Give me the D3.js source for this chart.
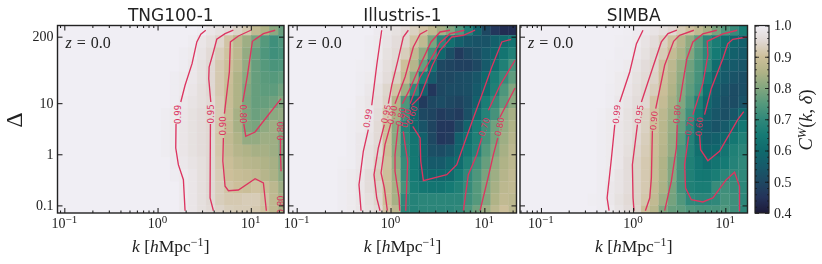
<!DOCTYPE html>
<html>
<head>
<meta charset="utf-8">
<script src="https://d3js.org/d3.v7.min.js"></script>
<style>
  html, body { margin: 0; padding: 0; background: #fff; }
  svg { display: block; filter: blur(0.3px); }
  text { fill: #222; }
</style>
</head>
<body>
<script>
const titles = ["TNG100-1", "Illustris-1", "SIMBA"]
const deltaTicks = [0.1, 1, 10, 200]
const kMajor = [0.1, 1, 10]
const cwTicks = [0.4, 0.5, 0.6, 0.7, 0.8, 0.9, 1.0]

// k range of each box and the log10 k of its first bin edge
const kDomains = [[0.0845, 22.7], [0.0818, 22.0], [0.0593, 17.4]]
const kFirstEdge = [-1.025, -1.043, -1.162]
const kStep = [0.0966, 0.096, 0.096]
const deltaEdges = [331, 213, 123, 71.6, 41.3, 23.8, 13.8, 8.0, 4.6, 2.66, 1.53, 0.887, 0.513, 0.296, 0.171, 0.0986, 0.071]

const cmapLevels = [0.4, 0.45, 0.5, 0.55, 0.6, 0.65, 0.7, 0.75, 0.8, 0.85, 0.9, 0.95, 1.0]
const cmapColors = ["#1c1a38", "#24335a", "#1e4862", "#165a6a", "#0f6a6c", "#157a74", "#30887a", "#55997c", "#82a67f", "#b0b387", "#cdbf9a", "#e0d8d3", "#f0eef4"]

// rows run from high to low delta, columns are listed from the right edge back; anything further left is 1.0
const cwTng = [
  [.995,.98,.97,.96,.94,.92,.88,.85,.81,.77],
  [.995,.98,.965,.945,.91,.87,.83,.79,.75,.72,.74],
  [.995,.99,.975,.955,.93,.905,.87,.82,.77,.74,.72,.73],
  [.995,.985,.97,.95,.92,.90,.865,.82,.77,.75,.735,.74],
  [.995,.99,.985,.97,.95,.92,.895,.85,.81,.77,.755,.75,.76],
  [.995,.99,.98,.965,.95,.92,.89,.85,.80,.77,.76,.76,.78],
  [.995,.985,.975,.965,.955,.925,.89,.85,.795,.77,.77,.78,.80],
  [.995,.99,.98,.97,.96,.95,.925,.89,.84,.795,.775,.785,.81,.82],
  [.995,.99,.98,.97,.96,.95,.92,.885,.84,.80,.79,.815,.83,.80],
  [.995,.99,.98,.97,.96,.95,.915,.88,.85,.82,.82,.83,.83,.80],
  [.995,.99,.98,.97,.96,.95,.915,.885,.86,.85,.84,.84,.83,.80],
  [.992,.985,.975,.965,.95,.92,.895,.875,.865,.86,.85,.84,.80],
  [.995,.99,.98,.965,.95,.925,.90,.89,.885,.875,.86,.845,.81],
  [.99,.98,.965,.95,.93,.91,.90,.895,.905,.895,.87,.83],
  [.99,.98,.965,.95,.93,.92,.92,.925,.925,.91,.875,.84],
  [.99,.98,.965,.955,.94,.93,.925,.925,.92,.905,.875,.84]
]
const cwIllustris = [
  [.992,.98,.97,.955,.935,.91,.88,.84,.80,.74,.67,.58,.50,.46,.44,.44],
  [.995,.99,.975,.96,.945,.91,.875,.79,.69,.62,.57,.54,.53,.53,.57,.605,.63],
  [.995,.99,.97,.955,.93,.88,.815,.73,.59,.52,.47,.50,.52,.55,.585,.63,.67],
  [.997,.995,.985,.965,.95,.90,.86,.77,.62,.50,.49,.48,.48,.50,.55,.61,.67,.73],
  [.995,.99,.98,.96,.935,.885,.81,.66,.55,.50,.50,.51,.52,.54,.60,.66,.71,.76],
  [.995,.985,.97,.945,.91,.83,.70,.57,.46,.50,.51,.51,.52,.55,.61,.67,.74,.80],
  [.99,.98,.965,.94,.86,.74,.59,.47,.50,.51,.50,.49,.51,.57,.66,.71,.76,.81],
  [.997,.99,.985,.96,.92,.84,.72,.59,.50,.49,.47,.48,.47,.52,.61,.68,.73,.81,.84],
  [.995,.99,.98,.955,.90,.81,.68,.59,.53,.49,.46,.46,.50,.58,.66,.72,.78,.82,.85],
  [.995,.985,.975,.955,.90,.81,.69,.63,.57,.50,.46,.47,.57,.62,.67,.73,.785,.83,.86],
  [.995,.985,.97,.95,.90,.81,.695,.64,.58,.52,.51,.53,.58,.64,.68,.75,.80,.84,.87],
  [.997,.995,.985,.97,.94,.905,.82,.71,.645,.58,.55,.55,.58,.61,.67,.72,.77,.82,.85,.87],
  [.995,.99,.98,.96,.93,.90,.83,.71,.65,.60,.59,.59,.60,.65,.70,.74,.79,.83,.86,.88],
  [.995,.99,.98,.96,.94,.90,.84,.73,.66,.64,.63,.63,.65,.67,.71,.75,.80,.84,.87,.88],
  [.995,.99,.98,.965,.945,.90,.84,.70,.68,.69,.69,.69,.69,.69,.72,.75,.80,.85,.88,.87],
  [.995,.99,.98,.97,.955,.91,.87,.695,.68,.69,.69,.69,.69,.70,.74,.78,.83,.87,.90,.87]
]
const cwSimba = [
  [.997,.992,.985,.975,.965,.95,.925,.905,.875,.84,.79,.745,.71,.66],
  [.997,.995,.99,.975,.96,.935,.905,.86,.815,.76,.70,.66,.62,.59,.57],
  [.995,.995,.985,.97,.95,.925,.885,.845,.80,.745,.70,.65,.605,.57,.55],
  [.997,.995,.99,.975,.96,.945,.905,.87,.825,.78,.735,.70,.61,.56,.55,.54],
  [.997,.99,.985,.97,.955,.94,.90,.86,.815,.77,.73,.655,.58,.55,.53,.52],
  [.995,.99,.98,.965,.95,.93,.895,.85,.805,.76,.72,.62,.56,.53,.51,.52],
  [.995,.985,.975,.96,.95,.91,.885,.84,.80,.745,.67,.59,.55,.52,.51,.53],
  [.997,.99,.985,.97,.955,.935,.905,.87,.83,.785,.72,.65,.57,.54,.52,.54,.59],
  [.995,.99,.98,.97,.955,.935,.90,.865,.825,.765,.70,.59,.55,.53,.55,.60,.64],
  [.995,.99,.98,.97,.95,.93,.895,.865,.82,.755,.68,.60,.56,.57,.59,.64,.67],
  [.995,.99,.98,.965,.945,.925,.895,.86,.82,.74,.68,.62,.585,.59,.63,.67,.69],
  [.995,.99,.98,.96,.94,.92,.89,.85,.80,.735,.67,.635,.61,.63,.65,.68,.70],
  [.995,.99,.975,.96,.94,.92,.89,.85,.80,.73,.67,.645,.64,.66,.69,.70,.70],
  [.995,.985,.975,.96,.94,.92,.885,.845,.79,.725,.67,.66,.66,.71,.72,.71,.695],
  [.997,.995,.985,.97,.955,.94,.915,.88,.83,.785,.745,.70,.69,.69,.70,.73,.72,.695],
  [.995,.99,.975,.96,.945,.895,.865,.80,.77,.76,.74,.73,.73,.73,.74,.72,.695]
]

// contour lines as [log10 k, log10 delta], split where the inline labels sit
const linesTng = [
  [[.517,2.427],[.464,2.348],[.421,2.198],[.37,1.773],[.295,1.35],[.249,1.023]],
  [[.198,.593],[.195,.123],[.223,-.204],[.277,-.497],[.295,-1.104]],
  [[.813,2.427],[.724,2.36],[.635,2.25],[.599,2.002],[.553,1.708],[.549,1.479],[.571,1.023]],
  [[.567,.593],[.563,-.855],[.599,-1.104]],
  [[1.0,2.427],[.867,2.315],[.781,2.198],[.77,1.611],[.717,.795]],
  [[.706,.319],[.70,-.131],[.724,-.626],[.76,-.712],[.867,-.699],[1.046,-.477],[1.135,-.562],[1.167,-1.104]],
  [[1.261,2.427],[1.135,2.36],[1.017,2.211],[.964,1.546],[.914,1.023]],
  [[.925,.593],[.946,.352],[1.046,.436],[1.135,.646],[1.325,1.088]],
  [[1.318,.319],[1.318,-.008],[1.325,-.333]]
]
const linesIllustris = [
  [[-.094,2.427],[-.147,1.742],[-.20,.959]],
  [[-.237,.481],[-.29,.059],[-.336,-.595],[-.314,-1.104]],
  [[.19,2.427],[.136,2.295],[.083,1.871],[.013,1.35],[-.023,.99]],
  [[-.066,.579],[-.13,.123],[-.176,-.399],[-.147,-.855],[-.112,-1.104]],
  [[.392,2.427],[.315,2.348],[.243,2.1],[.155,1.513],[.048,.99]],
  [[.002,.593],[-.059,.188],[-.101,-.366],[-.066,-.659],[-.034,-1.104]],
  [[.634,2.427],[.528,2.393],[.432,2.198],[.315,1.742],[.208,1.284],[.126,.99]],
  [[.083,.579],[.048,-.008],[.048,-.333],[.091,-.855],[.098,-1.104]],
  [[.787,2.427],[.634,2.36],[.528,2.184],[.403,1.773],[.315,1.513],[.208,.99]],
  [[.136,.45],[.155,.188],[.183,-.137],[.162,-1.104]],
  [[.901,2.427],[.776,2.329],[.652,2.295],[.528,2.035],[.446,1.742],[.315,1.121],[.226,.959]],
  [[.237,.548],[.315,.319],[.322,-.137],[.35,-.517],[.599,-.399],[.706,-.204],[.794,.254],[.883,.71],[.972,1.155],[1.079,1.708],[1.186,2.198],[1.285,2.25]],
  [[.776,-1.104],[.829,-.399],[.919,-.008],[.972,.319]],
  [[1.043,.861],[1.167,1.35],[1.327,1.84]],
  [[.954,-1.104],[1.043,-.431],[1.096,-.008],[1.143,.319]],
  [[1.167,.73],[1.327,1.297]]
]
const linesSimba = [
  [[.107,2.427],[.036,2.164],[-.037,1.611],[-.145,1.023]],
  [[-.199,.579],[-.235,-.072],[-.282,-.855],[-.261,-1.104]],
  [[.475,2.427],[.378,2.36],[.306,2.198],[.215,1.708],[.09,1.023]],
  [[.047,.579],[-.008,-.204],[-.001,-.855],[.01,-1.104]],
  [[.659,2.427],[.504,2.329],[.439,2.211],[.342,1.742],[.245,.892]],
  [[.209,.462],[.198,-.464],[.18,-.855],[.133,-1.104]],
  [[.908,2.427],[.756,2.355],[.648,2.198],[.583,1.871],[.504,1.023]],
  [[.479,.579],[.469,.123],[.414,-.528],[.342,-1.104]],
  [[1.129,2.427],[.973,2.355],[.804,2.211],[.811,1.937],[.756,1.382],[.648,.775]],
  [[.602,.352],[.558,-.204],[.569,-.659],[.631,-.888],[.756,-.933],[.865,-.855],[1.01,-.497],[1.1,-.352],[1.154,-.626],[1.154,-1.115]],
  [[1.24,2.295],[1.081,2.25],[1.027,2.164],[.973,1.871],[.847,1.284],[.775,.775]],
  [[.721,.384],[.732,.09],[.811,-.125],[.937,.059],[1.135,.677],[1.2,.834]]
]

// inline labels: text, log10 k, log10 delta, rotation
const labelsTng = [["0.99",.215,.779,-90],["0.95",.567,.789,-90],["0.90",.70,.554,-90],["0.80",.914,.789,90],["0.80",1.322,.456,-90],["0.80",1.322,-.992,-90]]
const labelsIllustris = [["0.99",-.243,.705,-80],["0.95",-.048,.789,-78],["0.90",.019,.769,-78],["0.80",.109,.736,-78],["0.70",.165,.705,-78],["0.60",.226,.769,-72],["0.70",.997,.535,-72],["0.80",1.16,.54,-78]]
const labelsSimba = [["0.99",-.181,.783,-85],["0.95",.064,.783,-80],["0.90",.223,.658,-85],["0.80",.475,.783,-85],["0.70",.613,.554,-80],["0.60",.721,.54,-85]]

const grids = [cwTng, cwIllustris, cwSimba]
const lines = [linesTng, linesIllustris, linesSimba]
const labels = [labelsTng, labelsIllustris, labelsSimba]

const serif = "'Liberation Serif', serif"
const sans = "'DejaVu Sans', sans-serif"
const red = "#dc3560"
const panelX = [[57.5, 284], [288.5, 516.5], [520, 747.5]]
const top_ = 25.5, bottom = 213

const svg = d3.select("body").append("svg").attr("width", 822).attr("height", 264)
const defs = svg.append("defs")
const color = d3.scaleLinear().domain(cmapLevels).range(cmapColors).clamp(true)
const y = d3.scaleLog().domain([deltaEdges[16], deltaEdges[0]]).range([bottom, top_])

const pow10 = v => Math.pow(10, v)
const noDomain = s => s.select(".domain").remove()

panelX.forEach((range, p) => {
  const x = d3.scaleLog().domain(kDomains[p]).range(range)
  const g = svg.append("g")
  const plotW = range[1] - range[0]

  defs.append("clipPath").attr("id", "clip" + p).append("rect")
    .attr("x", range[0]).attr("y", top_).attr("width", plotW).attr("height", bottom - top_)

  const body = g.append("g").attr("clip-path", "url(#clip" + p + ")")
  body.append("rect").attr("x", range[0]).attr("y", top_).attr("width", plotW).attr("height", bottom - top_).attr("fill", color(1))

  // cells, the thin same-colour stroke keeps the seams faint
  const edgeLeft = c => c === 0 ? range[0] : x(pow10(kFirstEdge[p] + (c - 1) * kStep[p]))
  const edgeRight = c => c === 25 ? range[1] : x(pow10(kFirstEdge[p] + c * kStep[p]))
  grids[p].forEach((row, r) => {
    const offset = 26 - row.length
    body.append("g").selectAll("rect").data(row).enter().append("rect")
      .attr("x", (d, i) => edgeLeft(offset + i))
      .attr("width", (d, i) => edgeRight(offset + i) - edgeLeft(offset + i))
      .attr("y", y(deltaEdges[r]))
      .attr("height", y(deltaEdges[r + 1]) - y(deltaEdges[r]))
      .attr("fill", d => color(d))
      .attr("stroke", d => color(d)).attr("stroke-width", 0.25)
  })

  // contours
  const line = d3.line().x(d => x(pow10(d[0]))).y(d => y(pow10(d[1])))
  body.selectAll("path.contour").data(lines[p]).enter().append("path")
    .attr("class", "contour").attr("d", line)
    .attr("fill", "none").attr("stroke", red).attr("stroke-width", 1.35)

  body.selectAll("text.clabel").data(labels[p]).enter().append("text")
    .attr("class", "clabel")
    .attr("transform", d => "translate(" + x(pow10(d[1])) + "," + y(pow10(d[2])) + ") rotate(" + d[3] + ")")
    .attr("text-anchor", "middle").attr("dy", "0.36em")
    .style("font-family", sans).style("font-size", "8.6px").style("fill", red)
    .text(d => d[0])

  // axes, ticks point inwards on all four sides
  const minor = x.ticks().filter(v => Math.abs(Math.log10(v) % 1) > 1e-6)
  ;[[d3.axisBottom(x), bottom], [d3.axisTop(x), top_]].forEach(a => {
    g.append("g").attr("transform", "translate(0," + a[1] + ")")
      .call(a[0].tickValues(minor).tickSize(-2.5).tickFormat("")).call(noDomain)
    g.append("g").attr("transform", "translate(0," + a[1] + ")")
      .call(a[0].tickValues(kMajor).tickSize(-5).tickFormat("")).call(noDomain)
  })
  ;[[d3.axisLeft(y), range[0]], [d3.axisRight(y), range[1]]].forEach(a => {
    g.append("g").attr("transform", "translate(" + a[1] + ",0)")
      .call(a[0].tickValues(deltaTicks).tickSize(-5).tickFormat("")).call(noDomain)
  })
  g.selectAll(".tick line").attr("stroke", "#111").attr("stroke-width", 1)

  g.append("rect").attr("x", range[0]).attr("y", top_).attr("width", plotW).attr("height", bottom - top_)
    .attr("fill", "none").attr("stroke", "#222").attr("stroke-width", 1.4)

  // x tick labels with a real superscript
  const xt = g.selectAll("text.xt").data(kMajor).enter().append("text").attr("class", "xt")
    .attr("x", d => x(d)).attr("y", 228).attr("text-anchor", "middle")
    .style("font-family", serif).style("font-size", "14px")
  xt.append("tspan").text("10")
  xt.append("tspan").attr("dy", -5.5).style("font-size", "11px").text(d => d3.format("d")(Math.log10(d)).replace("-", "\u2212"))

  // x label
  const xl = g.append("text").attr("x", (range[0] + range[1]) / 2).attr("y", 251.5).attr("text-anchor", "middle")
    .style("font-family", serif).style("font-size", "17.5px")
  xl.append("tspan").style("font-style", "italic").text("k")
  xl.append("tspan").text(" [")
  xl.append("tspan").style("font-style", "italic").text("h")
  xl.append("tspan").text("Mpc")
  xl.append("tspan").attr("dy", -6).style("font-size", "12px").text("\u22121")
  xl.append("tspan").attr("dy", 6).text("]")

  // title
  g.append("text").attr("x", (range[0] + range[1]) / 2).attr("y", 20.5).attr("text-anchor", "middle")
    .style("font-family", sans).style("font-size", "17px").text(titles[p])

  // redshift note
  const z = g.append("text").attr("x", range[0] + 8).attr("y", 48)
    .style("font-family", serif).style("font-size", "16px").style("word-spacing", "1px")
  z.append("tspan").style("font-style", "italic").text("z")
  z.append("tspan").text(" = 0.0")

  if (p === 0) {
    g.selectAll("text.yt").data(deltaTicks).enter().append("text").attr("class", "yt")
      .attr("x", 53.5).attr("y", d => y(d)).attr("dy", "0.34em").attr("text-anchor", "end")
      .style("font-family", serif).style("font-size", "14px").text(d => d)
    g.append("text").attr("transform", "translate(22,120) rotate(-90)").attr("text-anchor", "middle")
      .style("font-family", serif).style("font-size", "24px").text("\u0394")
  }
})

// colour bar
const cbX = [755, 769]
const cb = d3.scaleLinear().domain([0.4, 1]).range([bottom, top_])
const grad = defs.append("linearGradient").attr("id", "cbar").attr("x1", 0).attr("x2", 0).attr("y1", 1).attr("y2", 0)
grad.selectAll("stop").data(cmapLevels).enter().append("stop")
  .attr("offset", d => (d - 0.4) / 0.6).attr("stop-color", d => color(d))
const cbar = svg.append("g")
cbar.append("rect").attr("x", cbX[0]).attr("y", top_).attr("width", cbX[1] - cbX[0]).attr("height", bottom - top_).attr("fill", "url(#cbar)")
const cbMinor = d3.range(0.42, 1, 0.02)
;[[d3.axisRight(cb), cbX[1]], [d3.axisLeft(cb), cbX[0]]].forEach(a => {
  cbar.append("g").attr("transform", "translate(" + a[1] + ",0)")
    .call(a[0].tickValues(cbMinor).tickSize(-1.8).tickFormat("")).call(noDomain)
  cbar.append("g").attr("transform", "translate(" + a[1] + ",0)")
    .call(a[0].tickValues(cwTicks).tickSize(-4).tickFormat("")).call(noDomain)
})
cbar.selectAll(".tick line").attr("stroke", "#111").attr("stroke-width", 0.8)
cbar.append("rect").attr("x", cbX[0]).attr("y", top_).attr("width", cbX[1] - cbX[0]).attr("height", bottom - top_)
  .attr("fill", "none").attr("stroke", "#222").attr("stroke-width", 1.2)
cbar.selectAll("text.ct").data(cwTicks).enter().append("text").attr("class", "ct")
  .attr("x", 774).attr("y", d => cb(d)).attr("dy", "0.34em")
  .style("font-family", serif).style("font-size", "14px").text(d => d3.format(".1f")(d))

const cl = cbar.append("text").attr("transform", "translate(812,120) rotate(-90)").attr("text-anchor", "middle")
  .style("font-family", serif).style("font-size", "18.5px")
cl.append("tspan").style("font-style", "italic").text("C")
cl.append("tspan").attr("dy", -6).style("font-size", "12.5px").style("font-style", "italic").text("W")
cl.append("tspan").attr("dy", 6).text("(")
cl.append("tspan").style("font-style", "italic").text("k")
cl.append("tspan").text(", ")
cl.append("tspan").style("font-style", "italic").text("\u03b4")
cl.append("tspan").text(")")
</script>
</body>
</html>
